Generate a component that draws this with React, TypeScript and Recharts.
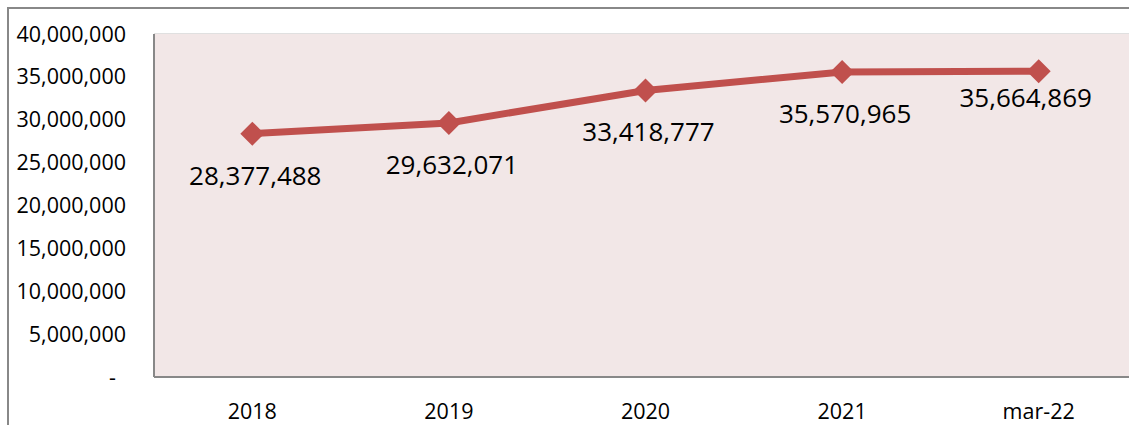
import React from "react";
import {
  LineChart,
  Line,
  XAxis,
  YAxis,
  CartesianGrid,
  ReferenceArea,
} from "recharts";

const periods = ["2018", "2019", "2020", "2021", "mar-22"];
const totals = [28377488, 29632071, 33418777, 35570965, 35664869];
const yTicks = [0, 5000000, 10000000, 15000000, 20000000, 25000000, 30000000, 35000000, 40000000];

const data = periods.map((p, i) => ({ period: p, total: totals[i] }));

const FONT = "'Open Sans', 'Noto Sans', sans-serif";
const LINE = "#C0504D";

function fmt(v: number) {
  return v.toLocaleString("en-US");
}

function YTick(props: any) {
  const { x, y, payload } = props;
  const v = payload.value as number;
  return (
    <text
      x={v === 0 ? x - 30 : x - 20}
      y={y + 7.5}
      textAnchor="end"
      fontSize={21.5}
      fontFamily={FONT}
      fill="#000"
    >
      {v === 0 ? "-" : fmt(v)}
    </text>
  );
}

function XTick(props: any) {
  const { x, y, payload } = props;
  return (
    <text x={x} y={y + 34} textAnchor="middle" fontSize={21.5} fontFamily={FONT} fill="#000">
      {payload.value}
    </text>
  );
}

function Diamond(props: any) {
  const { cx, cy } = props;
  if (cx == null || cy == null) return null;
  const r = 12;
  return (
    <path
      d={`M${cx},${cy - r} L${cx + r},${cy} L${cx},${cy + r} L${cx - r},${cy} Z`}
      fill={LINE}
      stroke="none"
    />
  );
}

function ValueLabel(props: any) {
  const { x, y, value, index } = props;
  const last = index === totals.length - 1;
  return (
    <text
      x={last ? x - 13 : x + 3}
      y={last ? y + 36 : y + 51}
      textAnchor="middle"
      fontSize={26}
      fontFamily={FONT}
      fill="#000"
    >
      {fmt(value)}
    </text>
  );
}

export default function App() {
  return (
    <div
      style={{
        position: "fixed",
        left: 0,
        top: 0,
        width: 1129,
        height: 425,
        overflow: "hidden",
        background: "#fff",
      }}
    >
      <div
        style={{
          position: "absolute",
          left: 7,
          top: 7,
          width: 1200,
          height: 500,
          borderLeft: "2px solid #888",
          borderTop: "2px solid #888",
        }}
      />
      <div style={{ position: "absolute", left: 0, top: 0 }}>
        <LineChart
          width={1200}
          height={440}
          data={data}
          margin={{ top: 34, right: 63, bottom: 0, left: 0 }}
        >
          <ReferenceArea
            y1={0}
            y2={40000000}
            fill="#F2E7E7"
            fillOpacity={1}
            stroke="none"
            ifOverflow="extendDomain"
          />
          <CartesianGrid vertical={false} stroke="#D6D6D6" strokeWidth={1.5} />
          <XAxis
            dataKey="period"
            scale="band"
            height={63}
            axisLine={{ stroke: "#888", strokeWidth: 2 }}
            tickLine={false}
            tick={<XTick />}
            interval={0}
          />
          <YAxis
            width={154}
            domain={[0, 40000000]}
            ticks={yTicks}
            interval={0}
            axisLine={{ stroke: "#888", strokeWidth: 2 }}
            tickLine={false}
            tick={<YTick />}
          />
          <Line
            type="linear"
            dataKey="total"
            stroke={LINE}
            strokeWidth={7}
            dot={<Diamond />}
            activeDot={false}
            label={<ValueLabel />}
            isAnimationActive={false}
          />
        </LineChart>
      </div>
    </div>
  );
}
